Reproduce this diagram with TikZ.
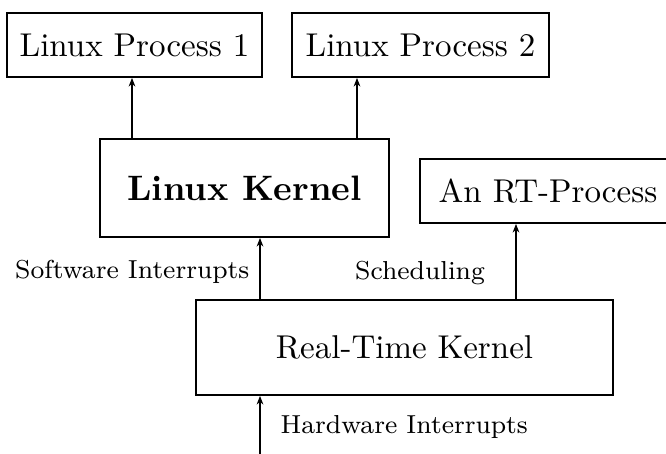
\documentclass[tikz,border=0pt]{standalone}
\usetikzlibrary{arrows.meta}
\begin{document}
\begin{tikzpicture}[x=0.3pt,y=-0.3pt,
  box/.style={draw,line width=0.55pt,inner sep=0pt,font=\fontsize{9.9}{12}\selectfont},
  lbl/.style={inner sep=0pt,font=\fontsize{7.8}{10}\selectfont},
  arr/.style={line width=0.4pt,-{Stealth[length=2.6pt,width=2pt]}}]
\useasboundingbox (0,0) rectangle (666,454);
\node[box,minimum width=76.5pt,minimum height=19.2pt] (lp1) at (134.5,45) {Linux Process 1};
\node[box,minimum width=77.1pt,minimum height=19.2pt] (lp2) at (420.5,45) {Linux Process 2};
\node[box,minimum width=86.7pt,minimum height=29.4pt,font=\fontsize{10.6}{12}\selectfont\bfseries] (lk) at (244.5,188) {Linux Kernel};
\node[box,minimum width=76.8pt,minimum height=19.2pt] (rtp) at (548,191) {An RT-Process};
\node[box,minimum width=125.1pt,minimum height=28.5pt] (rtk) at (404.5,347.5) {Real-Time Kernel};
\coordinate (x1) at (132,0);
\coordinate (x2) at (357,0);
\coordinate (x3) at (260,0);
\coordinate (x4) at (516,0);
\coordinate (hw) at (260,456);
\draw[arr] (lk.north -| x1) -- (lp1.south -| x1);
\draw[arr] (lk.north -| x2) -- (lp2.south -| x2);
\draw[arr] (rtk.north -| x3) -- (lk.south -| x3);
\draw[arr] (rtk.north -| x4) -- (rtp.south -| x4);
\draw[arr] (hw) -- (rtk.south -| hw);
\node[lbl,anchor=east] (sw) at (250,272) {Software Interrupts};
\node[lbl] (sch) at (420,273) {Scheduling};
\node[lbl,anchor=west] (hwl) at (280,427) {Hardware Interrupts};
\end{tikzpicture}
\end{document}
